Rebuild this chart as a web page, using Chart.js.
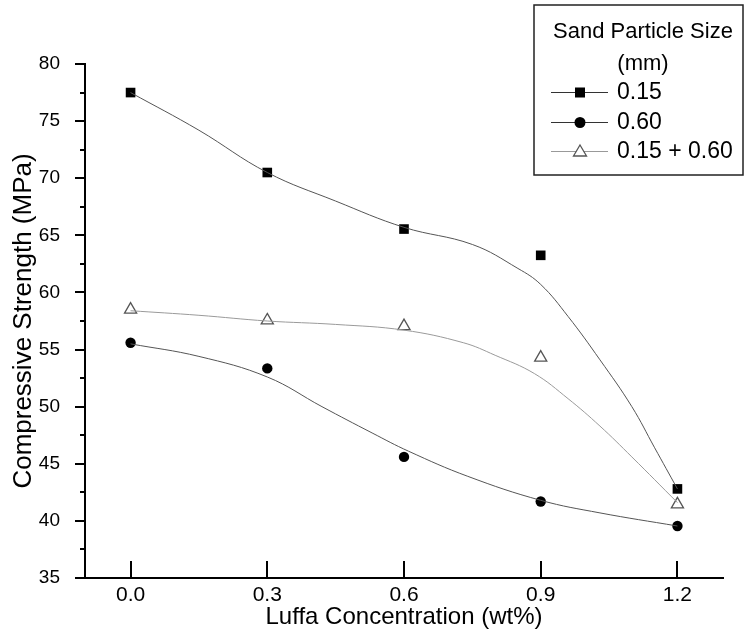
<!DOCTYPE html>
<html>
<head>
<meta charset="utf-8">
<script src="https://cdn.jsdelivr.net/npm/chart.js@4.4.1/dist/chart.umd.min.js"></script>
<style>
  html, body { margin: 0; padding: 0; background: #fff; }
</style>
</head>
<body>
<canvas id="myChart" width="744" height="629"></canvas>
<script>
// measured points
const luffa = [0.0, 0.3, 0.6, 0.9, 1.2];
const size015 = [77.5, 70.5, 65.55, 63.25, 42.8];
const size060 = [55.6, 53.35, 45.6, 41.7, 39.55];
const sizeMix = [58.5, 57.55, 57.05, 54.3, 41.45];

// fitted curves
const curveX015 = [0.0, 0.15, 0.3, 0.45, 0.6, 0.75, 0.85, 0.9, 0.96, 1.03, 1.1, 1.15, 1.2];
const curve015 = [77.5, 74.2, 70.5, 68.0, 65.7, 64.2, 62.1, 60.7, 57.9, 54.1, 50.0, 46.4, 42.8];
const curveX060 = [0.0, 0.15, 0.3, 0.42, 0.53, 0.61, 0.74, 0.9, 1.03, 1.2];
const curve060 = [55.5, 54.4, 52.6, 50.0, 47.7, 46.1, 43.9, 41.8, 40.7, 39.55];
const curveXMix = [0.0, 0.15, 0.3, 0.45, 0.6, 0.73, 0.8, 0.886, 0.96, 1.03, 1.1, 1.2];
const curveMix = [58.4, 58.0, 57.5, 57.2, 56.7, 55.6, 54.5, 52.9, 50.7, 48.3, 45.6, 41.6];

const xTicks = [0.0, 0.3, 0.6, 0.9, 1.2];
const yTicks = [35, 40, 45, 50, 55, 60, 65, 70, 75, 80];
const yMinor = [37.5, 42.5, 47.5, 52.5, 57.5, 62.5, 67.5, 72.5, 77.5];

const legendTitle = ["Sand Particle Size", "(mm)"];
const seriesNames = ["0.15", "0.60", "0.15 + 0.60"];

const FONT = "'Liberation Sans', Arial, sans-serif";

const pts = function (xs, ys) {
  return xs.map((x, i) => ({ x: x, y: ys[i] }));
};

const curveStyle = function (color) {
  return {
    showLine: true,
    borderColor: color,
    borderWidth: 1,
    pointRadius: 0,
    tension: 0.4,
    fill: false,
  };
};

const data = {
  datasets: [
    Object.assign({ data: pts(curveX015, curve015) }, curveStyle("#555")),
    Object.assign({ data: pts(curveX060, curve060) }, curveStyle("#555")),
    Object.assign({ data: pts(curveXMix, curveMix) }, curveStyle("#9a9a9a")),
    {
      label: seriesNames[0],
      data: pts(luffa, size015),
      pointStyle: "rect",
      pointRadius: 6.8,
      backgroundColor: "#000",
      borderColor: "#000",
      borderWidth: 0,
      showLine: false,
    },
    {
      label: seriesNames[1],
      data: pts(luffa, size060),
      pointStyle: "circle",
      pointRadius: 5.2,
      backgroundColor: "#000",
      borderColor: "#000",
      borderWidth: 0,
      showLine: false,
    },
    {
      label: seriesNames[2],
      data: pts(luffa, sizeMix),
      pointStyle: "triangle",
      pointRadius: 7,
      backgroundColor: "#fff",
      borderColor: "#555",
      borderWidth: 1.3,
      showLine: false,
    },
  ],
};

// axis ticks (y outward with minors, x inward) and the legend box
const decorations = {
  id: "decorations",
  afterDraw(chart) {
    const ctx = chart.ctx;
    const xs = chart.scales.x;
    const ys = chart.scales.y;
    const area = chart.chartArea;
    ctx.save();
    ctx.strokeStyle = "#000";
    ctx.lineWidth = 2;
    ctx.beginPath();
    yTicks.forEach((v) => {
      const py = Math.round(ys.getPixelForValue(v));
      ctx.moveTo(area.left - 10, py);
      ctx.lineTo(area.left, py);
    });
    yMinor.forEach((v) => {
      const py = Math.round(ys.getPixelForValue(v));
      ctx.moveTo(area.left - 5, py);
      ctx.lineTo(area.left, py);
    });
    xTicks.forEach((v) => {
      const px = Math.round(xs.getPixelForValue(v));
      ctx.moveTo(px, area.bottom);
      ctx.lineTo(px, area.bottom - 17);
    });
    ctx.stroke();

    // legend
    const bx = 534, by = 5, bw = 209, bh = 170;
    ctx.fillStyle = "#fff";
    ctx.fillRect(bx, by, bw, bh);
    ctx.lineWidth = 1.5;
    ctx.strokeStyle = "#222";
    ctx.strokeRect(bx, by, bw, bh);

    ctx.fillStyle = "#000";
    ctx.font = "22px " + FONT;
    ctx.textAlign = "center";
    ctx.textBaseline = "middle";
    ctx.fillText(legendTitle[0], 643, 32);
    ctx.fillText(legendTitle[1], 643, 64);

    const rowY = [92, 122, 151];
    const lineCol = ["#333", "#333", "#999"];
    ctx.textAlign = "left";
    ctx.font = "23px " + FONT;
    for (let i = 0; i < 3; i++) {
      const y = rowY[i];
      ctx.strokeStyle = lineCol[i];
      ctx.lineWidth = 1;
      ctx.beginPath();
      ctx.moveTo(551, y + 0.5);
      ctx.lineTo(608, y + 0.5);
      ctx.stroke();
      if (i === 0) {
        ctx.fillStyle = "#000";
        ctx.fillRect(575, y - 4.5, 10, 10);
      } else if (i === 1) {
        ctx.fillStyle = "#000";
        ctx.beginPath();
        ctx.arc(580, y + 0.5, 5.5, 0, Math.PI * 2);
        ctx.fill();
      } else {
        ctx.fillStyle = "#fff";
        ctx.strokeStyle = "#555";
        ctx.lineWidth = 1.3;
        ctx.beginPath();
        ctx.moveTo(580, y - 6);
        ctx.lineTo(586.5, y + 5);
        ctx.lineTo(573.5, y + 5);
        ctx.closePath();
        ctx.fill();
        ctx.stroke();
      }
      ctx.fillStyle = "#000";
      ctx.fillText(seriesNames[i], 617, y + 1);
    }
    ctx.restore();
  },
};

const config = {
  type: "scatter",
  data: data,
  options: {
    responsive: false,
    animation: false,
    layout: { padding: { top: 64, right: 21, left: 0, bottom: 0 } },
    plugins: {
      legend: { display: false },
      tooltip: { enabled: false },
    },
    scales: {
      x: {
        type: "linear",
        min: -0.1,
        max: 1.3,
        afterBuildTicks: (scale) => {
          scale.ticks = xTicks.map((v) => ({ value: v }));
        },
        afterFit: (scale) => {
          scale.height = 51;
        },
        grid: { display: false },
        border: { display: true, color: "#000", width: 2 },
        ticks: {
          color: "#000",
          padding: -3,
          maxRotation: 0,
          font: { family: FONT, size: 21 },
          callback: (v) => Number(v).toFixed(1),
        },
        title: {
          display: true,
          text: "Luffa Concentration (wt%)",
          color: "#000",
          padding: { top: 0, bottom: -3 },
          font: { family: FONT, size: 24 },
        },
      },
      y: {
        type: "linear",
        min: 35,
        max: 80,
        afterBuildTicks: (scale) => {
          scale.ticks = yTicks.map((v) => ({ value: v }));
        },
        afterFit: (scale) => {
          scale.width = 85;
        },
        grid: { display: false },
        border: { display: true, color: "#000", width: 2 },
        ticks: {
          color: "#000",
          padding: 17,
          font: { family: FONT, size: 19 },
        },
        title: {
          display: true,
          text: "Compressive Strength (MPa)",
          color: "#000",
          padding: { top: 8, bottom: 0 },
          font: { family: FONT, size: 26 },
        },
      },
    },
  },
  plugins: [decorations],
};

const myChart = new Chart(document.getElementById("myChart"), config);
</script>
</body>
</html>
